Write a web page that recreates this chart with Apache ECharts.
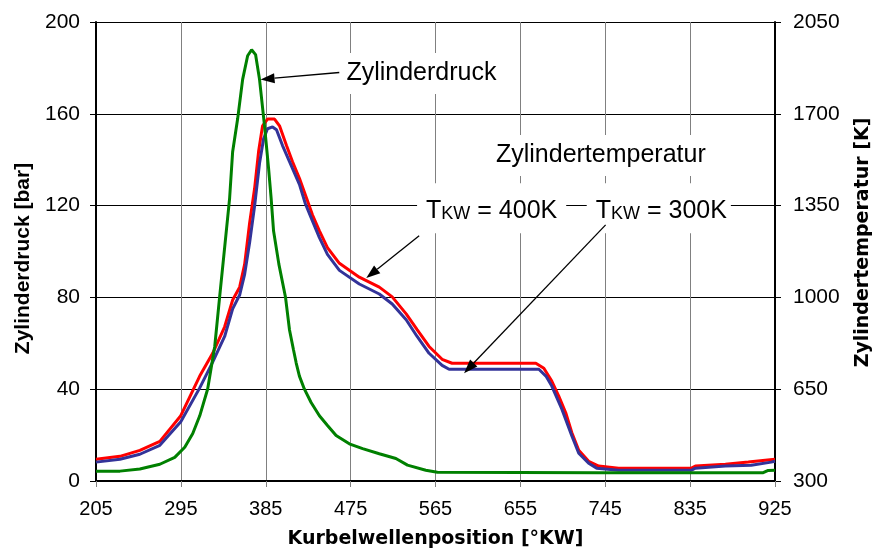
<!DOCTYPE html>
<html>
<head>
<meta charset="utf-8">
<script src="https://cdn.jsdelivr.net/npm/echarts@6/dist/echarts.min.js"></script>
<style>html,body{margin:0;padding:0;background:#fff}#c{width:881px;height:554px}</style>
</head>
<body>
<div id="c"></div>
<script>
// Cylinder pressure (bar) vs crank angle (°KW)
const crankG = [205,230.4,251.5,272.7,288.5,299.1,307.6,315,323.4,330.9,336.1,341.4,346.7,349.9,355.2,360.5,365.8,370,374.2,378.4,383.7,388,390.7,393.3,398.9,405.9,410.2,414.4,417.3,420.7,426,433.1,441.9,450.7,459.6,473.6,487.7,505.4,523,535.3,554.7,567,738,912.5,917.8,925];
const pressG = [4.3,4.3,5.2,7.3,10.3,14.7,20.7,28.4,40.1,58.6,80.2,101.7,123.3,143.5,157.8,175,185.3,187.9,185.8,175,154.7,136.2,123.3,108.9,94.5,80.2,65.8,57.2,51.4,45.7,40,34.2,28.4,24.1,19.8,16.2,14.1,11.9,9.8,6.9,4.7,3.8,3.6,3.6,4.6,4.7];
// Cylinder temperature (K), wall temperature 400 K
const crankR = [205,230.4,251.5,272.7,294.9,315,328.7,341.4,349.9,357.3,362.6,367.9,373.2,377.4,381.6,386.9,394.3,399.6,407,413.3,420.7,428.2,434.5,441.9,450.4,463.1,484.2,505.4,519.1,533.9,545.5,558.2,572,582.6,671.4,679.9,688.3,695.7,703.1,709.5,716.9,727.4,738,759.2,836.4,840.6,872.4,896.7,914.6,925];
const tempR = [383,394,417,451,549,700,787,888,990,1039,1126,1284,1416,1556,1654,1680,1680,1654,1579,1518,1454,1379,1315,1254,1190,1130,1077,1039,1002,937,877,813,764,749,749,730,681,624,560,485,417,375,357,349,349,357,364,372,379,383];
// Cylinder temperature (K), wall temperature 300 K
const crankB = [205,230.4,251.5,272.7,294.9,315,328.7,341.4,349.9,357.3,362.6,367.9,373.2,378.4,382.7,386.9,392.2,396.4,402.8,410.2,420.7,427.1,434.5,441.9,450.4,463.1,484.2,505.4,519.1,533.9,545.5,558.2,572,579.4,674.6,682.1,688.3,698.9,709.5,716.9,727.4,735.9,759.2,836.4,840.6,872.4,899.8,921,925];
const tempB = [372,383,402,436,526,655,753,851,956,1009,1088,1209,1349,1511,1605,1643,1650,1639,1579,1518,1431,1356,1292,1228,1164,1103,1051,1013,975,915,851,787,741,726,726,700,662,575,473,406,368,349,341,341,349,357,360,372,375];

const X0 = 205, XMAX = 925, XSTEP = 90;   // crank axis
const T0 = 300, TMAX = 2050, TSTEP = 350;  // temperature axis
const PMAX = 200, PSTEP = 40;              // pressure axis

const FONT = '"Liberation Sans", Arial, sans-serif';
const WIDE = '"DejaVu Sans", sans-serif';
const chart = echarts.init(document.getElementById('c'), null, {renderer: 'canvas'});

chart.setOption({
  animation: false,
  backgroundColor: '#fff',
  grid: {left: 96, right: 104, top: 22, bottom: 68, containLabel: false},
  xAxis: {
    type: 'value', min: 0, max: XMAX - X0, interval: XSTEP,
    name: 'Kurbelwellenposition [°KW]', nameLocation: 'middle', nameGap: 49,
    nameTextStyle: {fontFamily: WIDE, fontWeight: 'bold', fontSize: 19, color: '#000'},
    axisLine: {show: true, onZero: false, lineStyle: {color: '#000', width: 2}},
    axisTick: {show: true, length: 6, lineStyle: {color: '#808080'}},
    axisLabel: {fontFamily: FONT, fontSize: 20, color: '#000', margin: 18, formatter: v => String(v + X0)},
    splitLine: {show: true, lineStyle: {color: '#808080', width: 1}}
  },
  yAxis: [{
    type: 'value', min: 0, max: PMAX, interval: PSTEP, position: 'left',
    name: 'Zylinderdruck [bar]', nameLocation: 'middle', nameGap: 60, nameRotate: 90,
    nameTextStyle: {fontFamily: FONT, fontWeight: 'bold', fontSize: 21, color: '#000', padding: [0, 14, 0, 0]},
    axisLine: {show: true, lineStyle: {color: '#000', width: 2}},
    axisTick: {show: true, length: 6, lineStyle: {color: '#000'}},
    axisLabel: {fontFamily: FONT, fontSize: 21, color: '#000', margin: 16},
    splitLine: {show: true, lineStyle: {color: '#000', width: 1}}
  }, {
    type: 'value', min: 0, max: TMAX - T0, interval: TSTEP, position: 'right',
    name: 'Zylindertemperatur [K]', nameLocation: 'middle', nameGap: 79, nameRotate: 90,
    nameTextStyle: {fontFamily: WIDE, fontWeight: 'bold', fontSize: 19, color: '#000', padding: [0, 0, 0, 18]},
    axisLine: {show: true, lineStyle: {color: '#000', width: 2}},
    axisTick: {show: true, length: 6, lineStyle: {color: '#000'}},
    axisLabel: {fontFamily: FONT, fontSize: 21, color: '#000', margin: 18, formatter: v => String(v + T0)},
    splitLine: {show: false}
  }],
  series: [{
    name: 'T_KW = 400K', type: 'line', yAxisIndex: 1, showSymbol: false, symbol: 'none',
    data: crankR.map((c, i) => [c - X0, tempR[i] - T0]),
    lineStyle: {color: '#ff0000', width: 3}, z: 3
  }, {
    name: 'T_KW = 300K', type: 'line', yAxisIndex: 1, showSymbol: false, symbol: 'none',
    data: crankB.map((c, i) => [c - X0, tempB[i] - T0]),
    lineStyle: {color: '#333399', width: 3}, z: 4
  }, {
    name: 'Zylinderdruck', type: 'line', yAxisIndex: 0, showSymbol: false, symbol: 'none',
    data: crankG.map((c, i) => [c - X0, pressG[i]]),
    lineStyle: {color: '#008000', width: 3}, z: 5
  }]
});

// Annotations, anchored in data coordinates (crank °KW, pressure bar)
function px(c, p) { return chart.convertToPixel({xAxisIndex: 0, yAxisIndex: 0}, [c - X0, p]); }
function arrow(from, tip) {
  const a = px(from[0], from[1]), b = px(tip[0], tip[1]);
  const dx = b[0] - a[0], dy = b[1] - a[1], L = Math.hypot(dx, dy);
  const ux = dx / L, uy = dy / L, hl = 14, hw = 5;
  const bx = b[0] - ux * hl, by = b[1] - uy * hl;
  return [{
    type: 'line', z: 110,
    shape: {x1: a[0], y1: a[1], x2: bx, y2: by},
    style: {stroke: '#000', lineWidth: 1.3}
  }, {
    type: 'polygon', z: 110,
    shape: {points: [[b[0], b[1]], [bx - uy * hw, by + ux * hw], [bx + uy * hw, by - ux * hw]]},
    style: {fill: '#000'}
  }];
}
function label(c, p, text, pad, rich) {
  const q = px(c, p);
  const st = {text: text, x: 0, y: 0, font: '25px ' + FONT, fill: '#000', backgroundColor: '#fff',
    padding: pad, align: 'left', verticalAlign: 'middle'};
  if (rich) st.rich = rich;
  return {type: 'text', x: q[0] - pad[3], y: q[1], z: 100, style: st};
}
const sub = {
  m: {fontSize: 25, fontFamily: FONT, lineHeight: 30, verticalAlign: 'bottom'},
  s: {fontSize: 18, fontFamily: FONT, lineHeight: 17, verticalAlign: 'bottom'}
};
chart.setOption({graphic: [
  label(470.5, 177.6, 'Zylinderdruck', [8, 5, 8, 6]),
  label(629.1, 141.8, 'Zylindertemperatur', [8, 7, 8, 7]),
  label(555.0, 118.8, '{m|T}{s|KW}{m| = 400K}', [10, 9, 10, 9], sub),
  label(734.9, 118.8, '{m|T}{s|KW}{m| = 300K}', [10, 4, 10, 9], sub),
  ...arrow([463.0, 178.0], [379.5, 175.0]),
  ...arrow([547.7, 106.9], [491.6, 88.4]),
  ...arrow([745.4, 111.6], [595.3, 47.0])
]});
</script>
</body>
</html>
